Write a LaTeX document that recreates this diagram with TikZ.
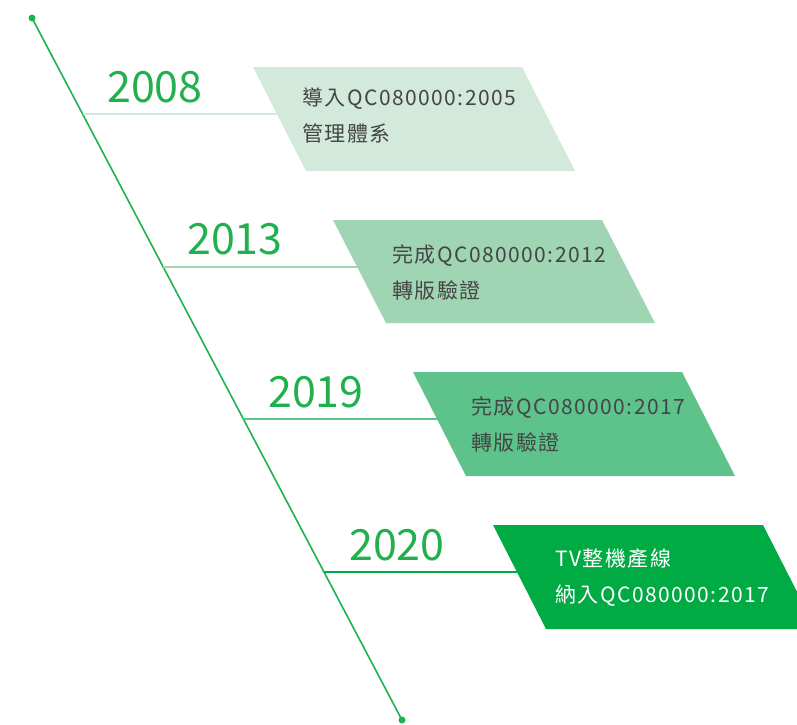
\documentclass[tikz,border=0pt]{standalone}
\usepackage{fontspec}
\setmainfont{Noto Sans CJK TC}[LetterSpace=7]
\newfontfamily\yearfont{Noto Sans CJK TC}
\definecolor{mainline}{HTML}{1EB250}
\definecolor{yeargreen}{HTML}{22B04E}
\definecolor{boxA}{HTML}{D2E9DB}
\definecolor{boxB}{HTML}{A0D5B3}
\definecolor{boxC}{HTML}{5DC38A}
\definecolor{boxD}{HTML}{00AB44}
\definecolor{textgray}{HTML}{454545}
\begin{document}
\begin{tikzpicture}[x=1pt,y=-1pt,
  yearlabel/.style={anchor=base west,inner sep=0pt,text=yeargreen,font=\yearfont\fontsize{43}{43}\selectfont},
  boxtext/.style={anchor=base west,inner sep=0pt,align=left,font=\fontsize{21}{36}\selectfont},
  link/.style={line width=2.5pt},
  dotmark/.style={circle,fill=mainline,inner sep=0pt,minimum size=7pt}]
\useasboundingbox (0,0) rectangle (797,724);
% main line
\node[dotmark] (top) at (32,18) {};
\node[dotmark] (bot) at (402,720) {};
\draw[mainline,line width=1.6pt] (top.center) -- (bot.center);
% stations on main line
\coordinate (s1) at (82.6,114);
\coordinate (s2) at (163.2,267);
\coordinate (s3) at (243.3,419);
\coordinate (s4) at (324,572);
% box left edge points
\coordinate (e1) at (279,114);
\coordinate (e2) at (358,267);
\coordinate (e3) at (438,419);
\coordinate (e4) at (518,572);
% connectors
\draw[link,boxA] (s1) -- (e1);
\draw[link,boxB] (s2) -- (e2);
\draw[link,boxC] (s3) -- (e3);
\draw[link,boxD] (s4) -- (e4);
% boxes
\fill[boxA] (253,67) -- (522,67) -- (575,171) -- (306,171) -- cycle;
\fill[boxB] (333,220) -- (602,220) -- (655,323) -- (386,323) -- cycle;
\fill[boxC] (413,372) -- (682,372) -- (735,476) -- (466,476) -- cycle;
\fill[boxD] (493,525) -- (763,525) -- (816,629) -- (546,629) -- cycle;
% years
\node[yearlabel] (y1) at (107,102) {2008};
\node[yearlabel] (y2) at (187,254) {2013};
\node[yearlabel] (y3) at (268,407) {2019};
\node[yearlabel] (y4) at (349,560) {2020};
% box texts (base anchor = baseline of last line)
\node[boxtext,text=textgray] (t1) at (302,141) {導入QC080000:2005\\管理體系};
\node[boxtext,text=textgray] (t2) at (392,298) {完成QC080000:2012\\轉版驗證};
\node[boxtext,text=textgray] (t3) at (471,450) {完成QC080000:2017\\轉版驗證};
\node[boxtext,text=white] (t4) at (555,602) {TV整機產線\\納入QC080000:2017};
\end{tikzpicture}
\end{document}
